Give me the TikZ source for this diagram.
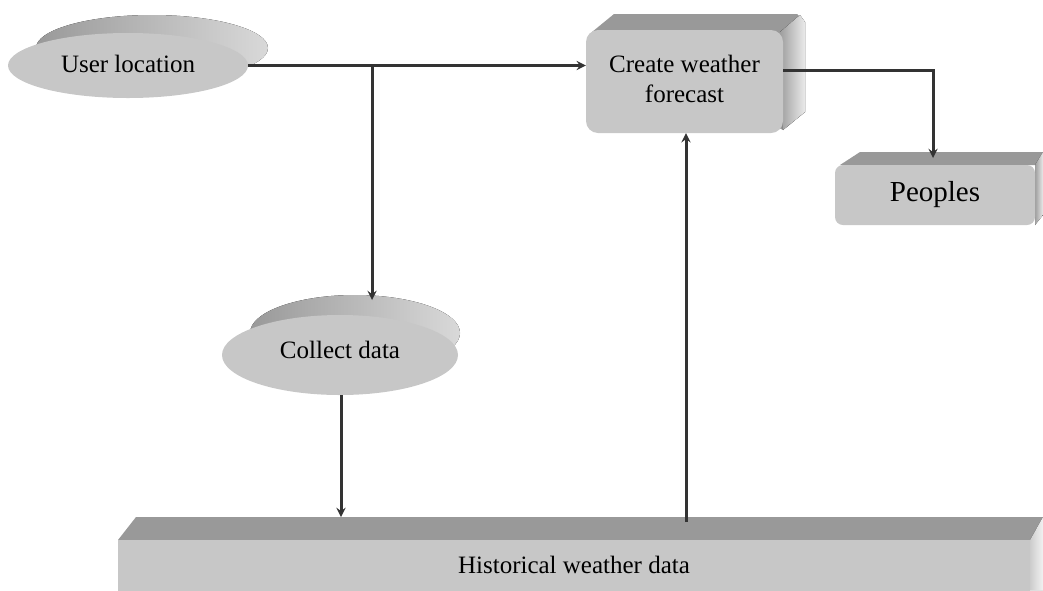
\documentclass[tikz,border=0pt]{standalone}
\usepackage{fontspec}
\setmainfont{Liberation Serif}
\usetikzlibrary{shapes.geometric}

\tikzset{
  frontface/.style={fill=black!22, draw=none},
  topface/.style={fill=black!40, draw=none},
  sideface/.style={left color=black!38, right color=black!8, draw=none},
  flow/.style={draw=black!80, line width=3pt},
}

\begin{document}
\begin{tikzpicture}[x=1pt, y=-1pt, >=stealth, font=\fontsize{25}{27}\selectfont]
\useasboundingbox (0,0) rectangle (1043,590);

% Back sides of the ellipses
\fill[left color=black!40, right color=black!15] (152,48) ellipse (116pt and 33pt);
\fill[left color=black!40, right color=black!15] (355,333) ellipse (105pt and 38pt);

% Back sides of the boxes
\fill[topface] (592,32) -- (614,14) -- (797,14) -- (805,22) -- (805,112) -- (783,130) -- cycle;
\fill[sideface] (780,32) -- (800,15) -- (805,22) -- (805,112) -- (783,130) -- cycle;
\fill[topface] (840,165) -- (860,152) -- (1043,152) -- (1035,165) -- cycle;
\fill[sideface] (1035,165) -- (1043,152) -- (1043,215) -- (1035,225) -- cycle;
\fill[topface] (118,540) -- (136,517) -- (1043,517) -- (1030,540) -- cycle;
\fill[left color=black!20, right color=black!5] (1030,540) -- (1043,517) -- (1043,590) -- (1030,590) -- cycle;

% Front faces
\node[ellipse, frontface, minimum width=240pt, minimum height=65pt] (user) at (128,65.5) {\raisebox{4pt}{User location}};
\node[ellipse, frontface, minimum width=236pt, minimum height=80pt] (collect) at (340,355) {\raisebox{10pt}{Collect data}};
\node[rectangle, rounded corners=12pt, frontface, minimum width=197pt, minimum height=103pt, font=\fontsize{25}{30}\selectfont] (create) at (684.5,81.5) {\raisebox{12pt}{\begin{tabular}{@{}c@{}}Create weather\\forecast\end{tabular}}};
\node[rectangle, rounded corners=8pt, frontface, minimum width=200pt, minimum height=60pt, font=\fontsize{29}{31}\selectfont] (people) at (935,195) {Peoples};
\node[rectangle, frontface, minimum width=912pt, minimum height=52pt] (hist) at (574,566) {\raisebox{3pt}{Historical weather data}};

% Connector points
\coordinate (split) at (372,65.5);
\coordinate (collecttop) at (372,300);
\coordinate (histtop) at (341,517);
\coordinate (histup) at (686,522);
\coordinate (peopletop) at (933,158);

% Data flows
\draw[flow, ->] (user.east) -- (user.east -| create.west);
\draw[flow, ->] (split) -- (collecttop);
\draw[flow, ->] (collect.south -| histtop) -- (histtop);
\draw[flow, ->] (histup) -- (histup |- create.south);
\draw[flow, ->] ([yshift=11pt]create.east) -| (peopletop);
\end{tikzpicture}
\end{document}
